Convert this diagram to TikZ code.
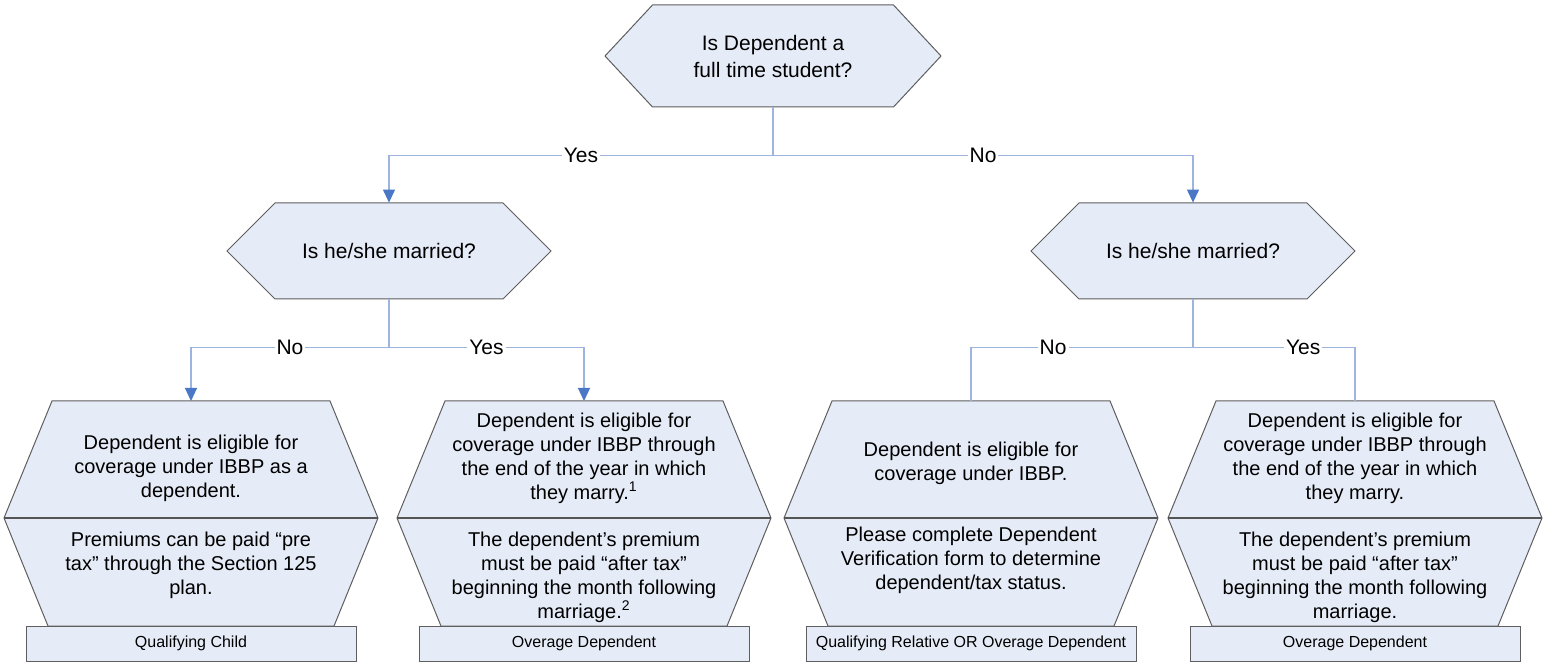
\documentclass[tikz,border=0pt]{standalone}
\usepackage{fontspec}
\setmainfont{Liberation Sans}
\usetikzlibrary{arrows.meta}

\definecolor{shapefill}{HTML}{E6ECF7}
\definecolor{shapeline}{HTML}{5E5E5E}
\definecolor{linkblue}{HTML}{9CB4DE}
\definecolor{tipblue}{HTML}{4A78C6}

\tikzset{
  hexshape/.style={draw=shapeline, fill=shapefill, line width=0.5pt},
  divider/.style={draw=shapeline!90!black, line width=1pt},
  decision/.style={align=center, inner sep=0pt, font=\fontsize{10.5}{13.5}\selectfont},
  outcome/.style={align=center, inner sep=0pt, font=\fontsize{10}{12}\selectfont},
  tagbox/.style={draw=shapeline, fill=shapefill, line width=0.5pt, inner sep=0pt,
    minimum width=165pt, minimum height=17.5pt, font=\fontsize{8}{9.6}\selectfont},
  link/.style={draw=linkblue, line width=0.6pt},
  linkarrow/.style={link, -{Triangle[width=6pt,length=6.5pt,color=tipblue]}},
  answer/.style={fill=white, inner sep=1pt, font=\fontsize{10.5}{12}\selectfont}
}

% decision hexagon: centre x, centre y, half width, half flat, half height
\newcommand\decisionshape[5]{%
  \draw[hexshape] (#1-#3,#2) -- (#1-#4,#2-#5) -- (#1+#4,#2-#5) -- (#1+#3,#2)
    -- (#1+#4,#2+#5) -- (#1-#4,#2+#5) -- cycle;}
% outcome box: centre x
\newcommand\outcomeshape[1]{%
  \draw[hexshape] (#1-139,401) -- (#1+139,401) -- (#1+187,518) -- (#1+143,626)
    -- (#1-143,626) -- (#1-187,518) -- cycle;
  \draw[divider] (#1-187,518) -- (#1+187,518);}

\begin{document}
\begin{tikzpicture}[x=0.5pt,y=-0.5pt]
\useasboundingbox (0,0) rectangle (1548,662);

% shapes
\decisionshape{773}{56}{168}{120.5}{51}
\decisionshape{389}{251}{162}{114}{48}
\decisionshape{1193}{251}{162}{114}{48}
\outcomeshape{191}
\outcomeshape{584}
\outcomeshape{971}
\outcomeshape{1355}

% questions
\node[decision, minimum width=168pt, minimum height=51pt] (student) at (773,56)
  {Is Dependent a\\full time student?};
\node[decision, minimum width=162pt, minimum height=48pt] (marriedL) at (389,251)
  {Is he/she married?};
\node[decision, minimum width=162pt, minimum height=48pt] (marriedR) at (1193,251)
  {Is he/she married?};

% outcomes
\coordinate (childbox) at (191,401);
\coordinate (overageL) at (584,401);
\coordinate (relative) at (971,401);
\coordinate (overageR) at (1355,401);

\node[outcome] (childtop) at (191,468)
  {Dependent is eligible for\\coverage under IBBP as a\\dependent.};
\node[outcome] (childbot) at (191,565)
  {Premiums can be paid “pre\\tax” through the Section 125\\plan.};
\node[tagbox] (childtag) at (191,643.5) {Qualifying Child};

\node[outcome] (overLtop) at (584,458)
  {Dependent is eligible for\\coverage under IBBP through\\the end of the year in which\\they marry.\textsuperscript{1}};
\node[outcome] (overLbot) at (584,577)
  {The dependent’s premium\\must be paid “after tax”\\beginning the month following\\marriage.\textsuperscript{2}};
\node[tagbox] (overLtag) at (584,643.5) {Overage Dependent};

\node[outcome] (reltop) at (971,463)
  {Dependent is eligible for\\coverage under IBBP.};
\node[outcome] (relbot) at (971,560)
  {Please complete Dependent\\Verification form to determine\\dependent/tax status.};
\node[tagbox] (reltag) at (971,643.5) {Qualifying Relative OR Overage Dependent};

\node[outcome] (overRtop) at (1355,458)
  {Dependent is eligible for\\coverage under IBBP through\\the end of the year in which\\they marry.};
\node[outcome] (overRbot) at (1355,577)
  {The dependent’s premium\\must be paid “after tax”\\beginning the month following\\marriage.};
\node[tagbox] (overRtag) at (1355,643.5) {Overage Dependent};

% connectors
\draw[linkarrow] (student.south) -- ++(0,48) -| node[answer, pos=0.25] {Yes} (marriedL.north);
\draw[linkarrow] (student.south) -- ++(0,48) -| node[answer, pos=0.25] {No} (marriedR.north);
\draw[linkarrow] (marriedL.south) -- ++(0,48) -| node[answer, pos=0.25] {No} (childbox);
\draw[linkarrow] (marriedL.south) -- ++(0,48) -| node[answer, pos=0.25] {Yes} (overageL);
\draw[link] (marriedR.south) -- ++(0,48) -| node[answer, pos=0.315] {No} (relative);
\draw[link] (marriedR.south) -- ++(0,48) -| node[answer, pos=0.34] {Yes} (overageR);
\end{tikzpicture}
\end{document}
